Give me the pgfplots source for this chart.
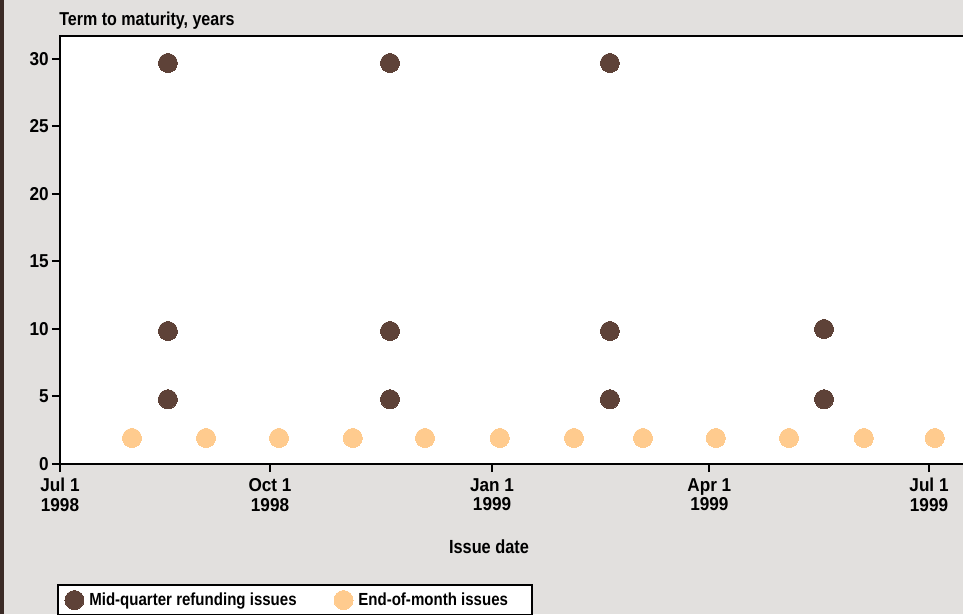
\documentclass[border=0pt]{standalone}
\usepackage{pgfplots}
\pgfplotsset{compat=1.18}
\usepackage{fontspec}
\setmainfont{Liberation Sans}[FakeStretch=0.86]
\newfontfamily\tickfont{Liberation Sans}[FakeStretch=0.92]
\newlength\px \setlength\px{0.6pt}
\definecolor{bg}{HTML}{E2E0DE}
\definecolor{strip}{HTML}{3B2B26}
\definecolor{darkdot}{HTML}{5E4238}
\definecolor{lightdot}{HTML}{FFCB8E}
\begin{document}
\fontsize{10.8}{13}\selectfont\bfseries
\begin{tikzpicture}[x=0.6pt,y=0.6pt]
\fill[bg] (0,0) rectangle (963,614);
\fill[strip] (0,0) rectangle (4,614);
\begin{axis}[
  at={(36pt,90pt)}, anchor=south west,
  scale only axis, width=917.3\px, height=428\px,
  xmin=5, xmax=385, ymin=0, ymax=31.7,
  axis background/.style={fill=white},
  axis line style={line width=2\px, black},
  xtick={5,92,184,274,365},
  xticklabels={{Jul 1\\1998},{Oct 1\\1998},{Jan 1\\1999},{Apr 1\\1999},{Jul 1\\1999}},
  xticklabel style={align=center, font=\tickfont\fontsize{11.2}{11.8}\selectfont\bfseries, inner ysep=6\px},
  ytick={0,5,10,15,20,25,30},
  yticklabel style={font=\tickfont\fontsize{11.2}{13}\selectfont\bfseries, inner xsep=3\px},
  /pgf/number format/assume math mode=true,
  tick align=outside, xtick pos=bottom, ytick pos=left,
  major tick length=8\px,
  tick style={line width=2\px, black},
  clip=false,
  legend columns=2,
  legend cell align=left,
  legend style={at={(-0.0033,-0.2804)}, anchor=north west, draw=black, line width=2\px,
     fill=white, font=\fontsize{10.5}{13}\selectfont\bfseries, inner xsep=7\px, inner ysep=4\px,
     /tikz/every odd column/.append style={column sep=2\px},
     /tikz/every even column/.append style={column sep=34\px}},
  legend image code/.code={\path[#1] plot coordinates {(0,0)};},
]
\addplot[only marks, mark=*, mark size=9.5\px, color=darkdot, mark options={fill=darkdot, draw=darkdot, line width=0pt}]
  coordinates {(49.7,29.7) (49.7,9.85) (49.7,4.8)
               (141.7,29.7) (141.7,9.85) (141.7,4.8)
               (232.8,29.7) (232.8,9.85) (232.8,4.8)
               (321.5,10.0) (321.5,4.8)};
\addlegendentry{Mid-quarter refunding issues}
\addplot[only marks, mark=*, mark size=9.5\px, color=lightdot, mark options={fill=lightdot, draw=lightdot, line width=0pt}]
  coordinates {(34.8,1.93) (65.5,1.93) (95.7,1.93) (126.3,1.93) (156.2,1.93) (187.2,1.93)
               (217.9,1.93) (246.5,1.93) (276.7,1.93) (307.0,1.93) (338.0,1.93) (367.4,1.93)};
\addlegendentry{End-of-month issues\rule{14\px}{0pt}}
\end{axis}
\node[anchor=base west, inner sep=0, font=\fontsize{11.2}{13}\selectfont\bfseries] at (59,588) {Term to maturity, years};
\node[anchor=base, inner sep=0, font=\fontsize{11.4}{13}\selectfont\bfseries] at (489,61) {Issue date};
\pgfresetboundingbox
\path[use as bounding box] (0,0) rectangle (963,614);
\end{tikzpicture}
\end{document}
